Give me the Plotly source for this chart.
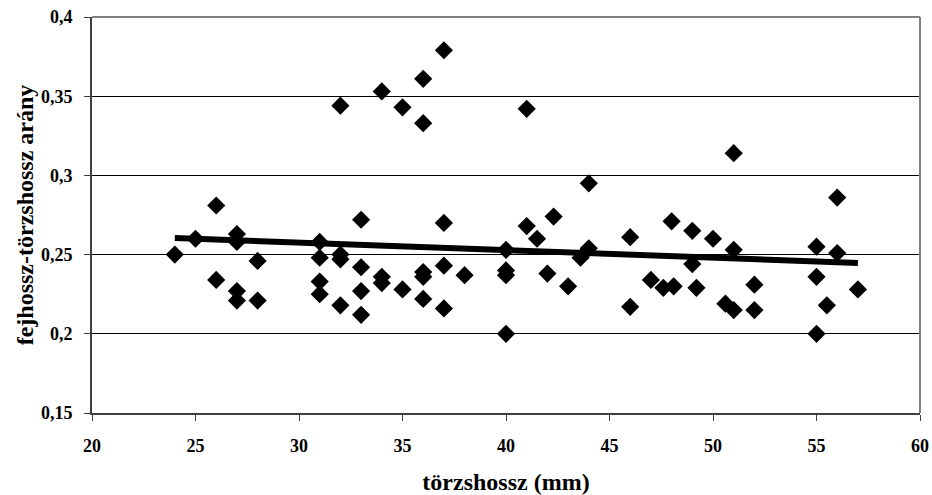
import numpy as np
import plotly.graph_objects as go

# törzshossz (mm)
torzshossz = [24, 25, 26, 26, 27, 27, 27, 27, 28, 28,
              31, 31, 31, 31, 32, 32, 32, 32, 33, 33, 33, 33,
              34, 34, 34, 35, 35, 36, 36, 36, 36, 36, 37, 37, 37, 37,
              38, 40, 40, 40, 40, 41, 41, 41.5, 42.3, 42, 43, 43.6, 44, 44,
              46, 46, 47, 47.6, 48, 48.1, 49, 49, 49.2, 50, 50.6,
              51, 51, 51, 52, 52, 55, 55, 55, 55.5, 56, 56, 57]
# fejhossz-törzshossz arány
arany = [0.250, 0.260, 0.281, 0.234, 0.263, 0.258, 0.227, 0.221, 0.246, 0.221,
         0.258, 0.248, 0.233, 0.225, 0.344, 0.250, 0.247, 0.218, 0.272, 0.242, 0.227, 0.212,
         0.353, 0.236, 0.232, 0.343, 0.228, 0.361, 0.333, 0.239, 0.236, 0.222, 0.379, 0.270, 0.243, 0.216,
         0.237, 0.253, 0.240, 0.237, 0.200, 0.342, 0.268, 0.260, 0.274, 0.238, 0.230, 0.248, 0.295, 0.254,
         0.261, 0.217, 0.234, 0.229, 0.271, 0.230, 0.265, 0.244, 0.229, 0.260, 0.219,
         0.314, 0.253, 0.215, 0.231, 0.215, 0.255, 0.236, 0.200, 0.218, 0.286, 0.251, 0.228]

x_ticks = [20, 25, 30, 35, 40, 45, 50, 55, 60]
y_ticks = [0.15, 0.2, 0.25, 0.3, 0.35, 0.4]

# linear trendline from the data
slope, intercept = np.polyfit(torzshossz, arany, 1)
tx = np.array([min(torzshossz), max(torzshossz)])
ty = slope * tx + intercept

FONT = "Liberation Serif"

fig = go.Figure()
fig.add_trace(go.Scatter(
    x=torzshossz, y=arany, mode="markers",
    marker=dict(symbol="diamond", size=14, color="black", line=dict(width=0)),
    showlegend=False, hoverinfo="x+y"))
fig.add_trace(go.Scatter(
    x=tx, y=ty, mode="lines",
    line=dict(color="black", width=6),
    showlegend=False))

fig.update_layout(
    width=932, height=495,
    margin=dict(l=92, r=12, t=17, b=82),
    paper_bgcolor="white", plot_bgcolor="white",
    separators=",.",
    font=dict(family=FONT, color="black", size=18, weight="bold"),
    xaxis=dict(
        range=[20, 60], tickvals=x_ticks, showgrid=False, zeroline=False,
        automargin=False,
        showline=True, linecolor="#404040", linewidth=2,
        ticks="outside", ticklen=6, tickcolor="#404040", tickwidth=1,
        tickfont=dict(family=FONT, size=18, weight="bold"),
        ticklabelstandoff=9,
        title=dict(text="törzshossz (mm)", font=dict(family=FONT, size=24, weight="bold"), standoff=22),
    ),
    yaxis=dict(
        range=[0.15, 0.4], tickvals=y_ticks, showgrid=True, gridcolor="black", gridwidth=1,
        zeroline=False, automargin=False,
        showline=True, linecolor="#404040", linewidth=2,
        ticks="outside", ticklen=6, tickcolor="#404040", tickwidth=1,
        tickfont=dict(family=FONT, size=18, weight="bold"),
        ticklabelstandoff=8,
        title=dict(text="fejhossz-törzshossz arány", font=dict(family=FONT, size=24, weight="bold"), standoff=1),
    ),
    shapes=[
        dict(type="line", xref="paper", yref="paper", x0=0, x1=1, y0=1, y1=1,
             line=dict(color="#808080", width=2), layer="above"),
        dict(type="line", xref="paper", yref="paper", x0=1, x1=1, y0=0, y1=1,
             line=dict(color="#808080", width=2), layer="above"),
    ],
)

fig.write_html("out.html")
